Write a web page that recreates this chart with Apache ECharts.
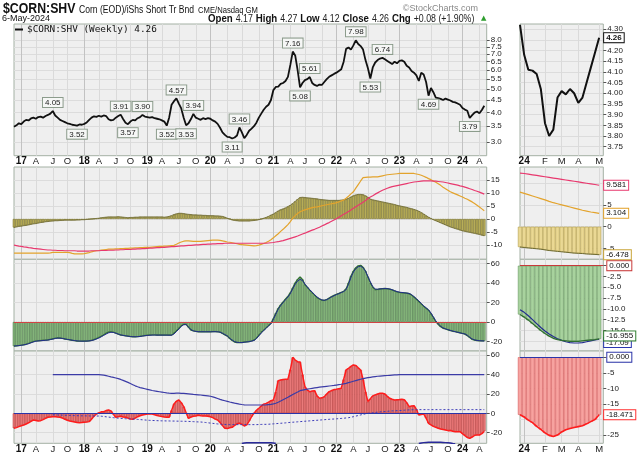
<!DOCTYPE html>
<html><head><meta charset="utf-8">
<script src="https://cdn.jsdelivr.net/npm/echarts@6/dist/echarts.min.js"></script>
<style>html,body{margin:0;padding:0;background:#fff}#c{width:640px;height:457px}</style>
</head><body><div id="c"></div>
<script>
// ---------- text ----------
const SYMBOL = '$CORN:SHV';
const SYMBOL_NAME = 'Corn (EOD)/iShs Short Tr Bnd';
const EXCHANGE = 'CME/Nasdaq GM';
const COPYRIGHT = '\u00A9StockCharts.com';
const DATE_TEXT = '6-May-2024';
const OHLC = ['Open','4.17','High','4.27','Low','4.12','Close','4.26','Chg','+0.08 (+1.90%)'];
const LEGEND_NAME = '$CORN:SHV (Weekly) 4.26';
const MONTH_LETTERS = ['J','F','M','A','M','J','J','A','S','O','N','D'];

// ---------- long view: bi-weekly samples from 2016-11-28 to 2024-05-06 ----------
const FIRST_DATE = '2016-11-28';
const price = [3.48,3.53,3.60,3.57,3.66,3.72,3.70,3.77,3.80,3.76,
 3.82,3.84,3.80,3.86,3.90,3.95,4.05,3.88,3.80,3.72,
 3.68,3.64,3.60,3.58,3.55,3.54,3.52,3.56,3.55,3.58,
 3.63,3.72,3.80,3.85,3.83,3.87,3.84,3.88,3.86,3.74,
 3.70,3.72,3.80,3.86,3.91,3.75,3.62,3.57,3.66,3.72,
 3.70,3.78,3.82,3.90,3.84,3.82,3.80,3.82,3.78,3.76,
 3.74,3.70,3.66,3.52,3.80,4.30,4.45,4.57,4.35,4.15,
 3.80,3.53,3.60,3.75,3.94,3.80,3.76,3.72,3.78,3.75,
 3.78,3.76,3.70,3.66,3.58,3.45,3.30,3.22,3.16,3.15,
 3.11,3.14,3.20,3.46,3.30,3.12,3.22,3.35,3.42,3.50,
 3.62,3.80,3.95,4.10,4.22,4.30,4.50,4.95,5.10,5.12,
 5.25,5.30,5.40,5.62,6.30,7.16,6.90,6.00,5.08,5.30,
 5.45,5.50,5.61,5.30,5.20,5.15,5.22,5.20,5.35,5.50,
 5.62,5.70,5.78,5.85,5.95,6.05,6.50,7.35,7.45,7.30,
 7.60,7.98,7.70,7.55,7.30,6.60,6.10,5.53,6.15,6.45,
 6.60,6.70,6.74,6.65,6.55,6.45,6.35,6.50,6.40,6.55,
 6.58,6.50,6.25,6.15,5.95,5.85,5.70,5.40,5.85,5.75,
 5.35,4.69,5.05,4.85,4.60,4.58,4.55,4.50,4.56,4.52,
 4.48,4.42,4.40,4.35,4.30,4.17,4.105,4.06,3.79,3.89,
 3.99,4.03,3.96,4.09,4.26];
// [sample index, label side]
const priceAnnotations = [[16,'top'],[26,'bottom'],[44,'top'],[47,'bottom'],[53,'top'],[63,'bottom'],
 [67,'top'],[71,'bottom'],[74,'top'],[90,'bottom'],[93,'top'],[115,'top'],[118,'bottom'],[122,'top'],
 [141,'top'],[147,'bottom'],[152,'top'],[171,'bottom'],[188,'bottom']];

const panel2Hist = [-3.3,-3.1,-2.9,-2.8,-2.6,-2.5,-2.3,-2.1,-1.9,-1.8,
 -1.6,-1.4,-1.3,-1.1,-1.0,-0.9,-0.8,-0.7,-0.7,-0.6,
 -0.6,-0.5,-0.5,-0.5,-0.5,-0.5,-0.4,-0.4,-0.3,-0.3,
 -0.2,-0.1,0.0,0.1,0.2,0.3,0.5,0.6,0.7,0.8,
 0.8,0.8,0.8,0.9,0.8,0.7,0.6,0.5,0.6,0.6,
 0.7,0.7,0.8,0.8,0.8,0.8,0.8,0.8,0.8,0.8,
 0.8,0.8,0.7,0.8,1.0,1.3,1.7,2.0,2.2,2.2,
 2.1,1.9,1.8,1.7,1.6,1.6,1.5,1.5,1.4,1.4,
 1.3,1.3,1.3,1.2,1.2,1.1,1.0,0.7,0.3,0.0,
 -0.4,-0.6,-0.7,-0.8,-0.8,-0.8,-0.8,-0.8,-0.7,-0.6,
 -0.5,-0.3,0.0,0.3,0.6,1.0,1.5,1.9,2.5,3.1,
 3.6,3.9,4.3,4.8,5.3,6.0,6.8,7.6,8.3,8.4,
 8.3,8.2,8.1,8.0,7.9,7.8,7.6,7.5,7.4,7.3,
 7.2,7.2,7.2,7.2,7.2,7.3,7.4,7.6,8.0,8.5,
 9.0,9.3,9.5,9.5,9.4,9.0,8.4,7.7,7.4,7.2,
 7.0,6.8,6.6,6.4,6.2,6.0,5.8,5.6,5.3,5.1,
 4.9,4.7,4.5,4.2,4.0,3.7,3.4,3.0,2.5,1.9,
 1.3,0.7,0.2,-0.3,-0.7,-1.1,-1.5,-1.9,-2.3,-2.7,
 -3.1,-3.4,-3.7,-4.0,-4.3,-4.6,-4.8,-5.0,-5.2,-5.4,
 -5.6,-5.8,-6.0,-6.3,-6.5];
const panel2Orange = [-13.2,-13.2,-13.2,-13.2,-13.2,-13.2,-13.2,-13.2,-13.2,-13.2,
 -13.2,-13.2,-13.2,-13.2,-13.2,-13.1,-12.9,-12.9,-12.9,-12.9,
 -12.9,-12.9,-12.9,-13.0,-13.3,-13.5,-13.5,-13.5,-13.5,-13.4,
 -13.2,-13.0,-12.7,-12.5,-12.3,-12.2,-12.0,-11.9,-11.8,-11.7,
 -11.7,-11.7,-11.6,-11.6,-11.5,-11.5,-11.4,-11.4,-11.3,-11.3,
 -11.2,-11.2,-11.1,-11.1,-11.0,-11.0,-11.0,-10.9,-10.8,-10.7,
 -10.6,-10.6,-10.5,-10.5,-10.4,-10.3,-10.2,-9.8,-9.3,-8.9,
 -8.6,-8.5,-8.5,-8.6,-8.7,-8.7,-8.7,-8.7,-8.6,-8.5,
 -8.4,-8.3,-8.2,-8.2,-8.2,-8.3,-8.5,-8.7,-8.9,-9.0,
 -9.2,-9.4,-9.6,-9.8,-9.9,-10.0,-10.1,-10.2,-10.3,-10.4,
 -10.3,-10.1,-9.8,-9.5,-9.1,-8.6,-8.0,-7.3,-6.5,-5.7,
 -4.8,-4.0,-3.1,-2.2,-1.0,0.3,1.3,2.1,2.8,3.2,
 3.5,3.8,4.1,4.4,4.6,4.7,4.9,5.1,5.3,5.5,
 5.7,5.9,6.0,6.3,6.6,7.0,7.3,8.0,8.8,9.7,
 10.5,11.9,13.3,14.7,16.0,16.1,16.2,16.2,16.3,16.3,
 16.3,16.5,16.7,16.9,17.1,17.2,17.3,17.4,17.5,17.6,
 17.6,17.6,17.6,17.6,17.6,17.6,17.4,17.2,16.9,16.5,
 16.1,15.6,15.2,14.7,14.2,13.6,13.0,12.3,11.7,11.1,
 10.5,10.1,9.7,9.3,8.9,8.5,8.0,7.6,7.1,6.6,
 6.0,5.3,4.6,3.9,3.2];
const panel2Pink = [-10.1,-10.3,-10.5,-10.6,-10.8,-10.9,-11.1,-11.2,-11.4,-11.5,
 -11.6,-11.7,-11.8,-11.9,-12.0,-12.0,-12.1,-12.1,-12.2,-12.2,
 -12.2,-12.3,-12.3,-12.3,-12.3,-12.3,-12.4,-12.4,-12.4,-12.4,
 -12.4,-12.4,-12.3,-12.3,-12.3,-12.3,-12.2,-12.2,-12.2,-12.1,
 -12.1,-12.1,-12.0,-12.0,-11.9,-11.9,-11.8,-11.8,-11.8,-11.7,
 -11.7,-11.6,-11.6,-11.5,-11.5,-11.4,-11.3,-11.3,-11.2,-11.1,
 -11.1,-11.0,-11.0,-10.9,-10.8,-10.7,-10.7,-10.6,-10.5,-10.4,
 -10.4,-10.3,-10.2,-10.2,-10.1,-10.0,-10.0,-9.9,-9.8,-9.8,
 -9.7,-9.7,-9.6,-9.6,-9.5,-9.5,-9.5,-9.4,-9.4,-9.4,
 -9.4,-9.4,-9.4,-9.4,-9.4,-9.4,-9.4,-9.4,-9.4,-9.4,
 -9.4,-9.4,-9.4,-9.4,-9.4,-9.3,-9.2,-9.1,-8.9,-8.8,
 -8.6,-8.4,-8.1,-7.8,-7.5,-7.2,-6.9,-6.6,-6.2,-5.8,
 -5.5,-5.1,-4.7,-4.3,-4.0,-3.6,-3.2,-2.7,-2.3,-1.8,
 -1.4,-0.9,-0.4,0.1,0.7,1.2,1.8,2.3,2.9,3.5,
 4.1,4.7,5.3,5.9,6.5,7.1,7.9,8.5,9.0,9.6,
 10.1,10.6,11.1,11.5,11.9,12.2,12.5,12.7,12.9,13.1,
 13.3,13.5,13.7,13.9,14.1,14.3,14.4,14.5,14.6,14.7,
 14.7,14.7,14.7,14.6,14.6,14.5,14.4,14.3,14.1,13.9,
 13.7,13.5,13.3,13.1,12.8,12.6,12.3,12.0,11.7,11.4,
 11.0,10.7,10.4,10.0,9.6];

const panel3Hist = [-24.8,-24.5,-24.2,-23.8,-23.3,-22.8,-22.0,-21.0,-20.0,-19.4,
 -19.2,-19.0,-18.8,-18.6,-18.3,-17.8,-17.2,-16.6,-16.2,-16.4,
 -16.9,-17.5,-17.9,-18.3,-18.8,-19.2,-19.5,-19.7,-19.7,-19.6,
 -19.5,-19.3,-18.8,-18.0,-17.0,-15.9,-14.5,-13.0,-11.5,-10.4,
 -10.0,-10.5,-11.5,-12.5,-13.4,-13.8,-14.2,-14.6,-15.0,-15.2,
 -15.2,-15.0,-14.7,-14.3,-13.9,-13.6,-13.4,-13.3,-13.3,-13.4,
 -13.4,-13.4,-13.4,-13.4,-13.5,-13.4,-11.5,-9.0,-6.6,-3.8,
 -2.3,-2.5,-5.5,-8.3,-9.2,-9.7,-10.0,-10.0,-10.0,-10.0,
 -10.0,-10.0,-9.9,-9.9,-10.0,-10.5,-11.8,-13.2,-14.5,-17.0,
 -19.0,-20.5,-21.0,-21.2,-21.0,-20.6,-20.3,-20.0,-19.4,-18.6,
 -16.5,-13.5,-10.5,-8.3,-6.0,-3.5,-1.4,3.5,9.0,14.0,
 17.6,20.5,23.5,26.2,30.0,35.0,40.0,43.5,46.0,43.5,
 38.3,35.5,32.5,30.0,27.5,25.0,23.5,22.3,22.1,23.0,
 24.5,26.0,27.2,28.3,29.3,30.4,31.4,34.0,40.0,47.0,
 52.0,55.5,57.5,58.0,56.0,52.0,46.0,40.0,35.5,33.1,
 33.3,33.8,34.1,34.3,34.1,33.6,32.8,31.8,30.9,30.3,
 30.0,29.8,29.5,29.0,27.5,25.5,23.3,21.0,18.5,16.0,
 14.1,12.0,8.5,4.5,0.3,-2.5,-4.8,-6.5,-7.2,-8.0,
 -8.8,-9.5,-10.0,-10.6,-11.2,-11.8,-12.4,-14.0,-16.0,-17.9,
 -18.6,-19.0,-19.2,-19.3,-19.3];
const panel3Signal = [-24.5,-24.4,-24.1,-23.8,-23.4,-22.9,-22.2,-21.3,-20.4,-19.7,
 -19.3,-19.1,-18.9,-18.7,-18.5,-18.0,-17.5,-16.9,-16.5,-16.5,
 -16.8,-17.3,-17.8,-18.2,-18.6,-19.0,-19.3,-19.5,-19.6,-19.6,
 -19.5,-19.3,-19.0,-18.3,-17.4,-16.4,-15.1,-13.7,-12.3,-11.1,
 -10.5,-10.7,-11.4,-12.3,-13.1,-13.7,-14.1,-14.5,-14.8,-15.0,
 -15.1,-15.0,-14.8,-14.4,-14.0,-13.7,-13.5,-13.4,-13.3,-13.4,
 -13.4,-13.4,-13.4,-13.4,-13.5,-13.5,-12.2,-9.8,-7.2,-4.5,
 -2.8,-2.7,-5.0,-7.8,-9.0,-9.6,-9.9,-10.0,-10.0,-10.0,
 -10.0,-10.0,-10.0,-9.9,-10.0,-10.4,-11.5,-12.8,-14.2,-16.5,
 -18.5,-20.0,-20.8,-21.0,-21.0,-20.7,-20.4,-20.1,-19.6,-18.9,
 -17.0,-14.2,-11.2,-8.8,-6.5,-4.0,-1.8,2.5,8.0,13.0,
 16.8,19.8,22.8,25.5,29.0,34.0,38.5,42.0,43.5,42.5,
 38.8,35.8,33.0,30.5,28.0,25.6,23.9,22.6,22.2,22.8,
 24.1,25.6,26.9,28.0,29.0,30.1,31.1,33.2,38.5,45.5,
 51.0,54.5,56.5,57.0,55.5,52.0,46.5,41.0,36.2,33.8,
 33.5,33.8,34.0,34.2,34.1,33.7,33.0,32.0,31.1,30.5,
 30.2,29.9,29.6,29.2,28.0,26.0,23.8,21.5,19.0,16.5,
 14.5,12.5,9.2,5.3,1.2,-1.8,-4.2,-6.0,-7.0,-7.8,
 -8.6,-9.3,-9.9,-10.5,-11.1,-11.7,-12.2,-13.5,-15.5,-17.3,
 -18.3,-18.8,-19.1,-19.3,-19.4];

const panel4Hist = [-15.5,-14.8,-13.8,-12.8,-12.1,-11.0,-9.8,-8.3,-6.9,-7.4,
 -7.9,-7.6,-6.5,-5.2,-4.1,-3.8,-3.5,-3.6,-3.9,-4.1,
 -5.0,-6.2,-7.2,-7.9,-8.5,-9.0,-9.5,-9.7,-9.6,-9.3,
 -9.0,-8.6,-6.0,-3.0,-0.7,0.5,1.5,1.7,2.8,3.4,
 2.5,-1.0,-4.1,-3.5,-3.0,-3.8,-4.1,-5.0,-5.8,-6.2,
 -5.0,-3.5,-2.5,-1.7,-1.2,-0.8,-0.7,-0.7,-1.5,-2.3,
 -2.9,-3.4,-3.8,-4.1,-4.1,3.0,9.7,12.5,13.8,11.0,
 6.9,0.5,-5.2,-4.0,-3.0,-2.8,-2.0,-2.5,-2.8,-2.8,
 -3.0,-3.5,-4.5,-6.0,-6.9,-9.5,-12.5,-15.5,-15.8,-15.0,
 -14.5,-12.5,-10.8,-10.3,-11.5,-13.1,-12.0,-8.0,-3.4,0.0,
 3.0,5.2,7.5,9.5,10.3,11.5,13.0,13.8,22.0,33.8,
 34.5,35.0,35.2,35.2,45.0,57.9,55.0,53.4,53.1,40.0,
 27.6,24.0,22.4,23.0,23.4,18.0,15.5,16.0,17.2,20.0,
 22.4,23.5,24.5,24.8,25.5,25.9,35.0,44.8,46.5,48.5,
 50.0,49.5,47.0,44.8,35.0,22.0,12.1,15.0,18.0,19.0,
 20.0,20.7,20.7,20.0,17.5,15.5,14.5,13.8,14.0,14.2,
 14.5,14.0,11.0,6.9,7.5,7.9,4.0,-1.7,-1.2,-0.7,
 -5.0,-10.3,-12.0,-13.5,-14.5,-15.5,-16.2,-16.8,-17.3,-17.9,
 -17.8,-18.5,-19.0,-19.0,-19.0,-21.0,-23.0,-25.0,-25.9,-24.5,
 -22.8,-22.4,-22.4,-21.0,-18.5];
// these two lines begin at sample 16
const PANEL4_LINES_START = 16;
const panel4Upper = [40,40,40,40,
 40,40,40,40,40,40,40,40,40,40,
 40,40,40,40,40,40,39.8,39.5,39.0,38.3,
 37.6,37.2,36.5,35.8,35.0,34.0,33.0,32.0,30.8,29.6,
 28.4,27.4,26.6,26.0,25.4,24.8,24.2,23.6,23.1,22.7,
 22.3,21.9,21.5,21.1,20.8,20.7,20.7,20.8,20.8,20.7,
 20.6,20.4,20.1,19.8,19.5,19.3,19.1,18.9,18.6,18.3,
 18.0,17.6,17.0,16.2,15.3,14.4,13.6,13.0,12.4,11.7,
 11.1,10.5,10.0,9.5,9.1,8.8,8.6,8.6,8.6,8.6,
 8.6,8.6,8.6,8.6,8.7,9.0,9.3,9.7,10.4,11.5,
 12.7,14.0,15.3,16.6,18.0,19.4,20.8,22.0,23.4,24.0,
 24.5,25.0,25.4,25.8,26.2,26.6,27.0,27.3,27.6,27.9,
 28.2,28.5,28.8,29.2,29.6,30.0,30.5,31.0,31.7,32.4,
 33.1,33.8,34.5,35.2,35.8,36.3,36.8,37.2,37.6,38.0,
 38.3,38.5,38.7,38.9,39.1,39.3,39.5,39.7,39.8,40.0,
 40,40,40,40,40,40,40,40,40,40,
 40,40,40,40,40,40,40,40,40,40,
 40,40,40,40,40,40,40,40,40,40,
 40,40,40,40,40];
const panel4Middle = [-1.5,-1.6,-1.7,-1.8,
 -1.9,-2.0,-2.1,-2.2,-2.3,-2.4,-2.5,-2.5,-2.6,-2.6,
 -2.7,-2.7,-2.8,-2.8,-2.8,-2.8,-3.0,-3.3,-3.6,-3.9,
 -4.2,-4.5,-4.8,-5.0,-5.2,-5.4,-5.6,-5.7,-5.8,-5.9,
 -6.1,-6.3,-6.5,-6.7,-6.9,-7.1,-7.3,-7.4,-7.5,-7.6,
 -7.7,-7.8,-7.8,-7.9,-7.9,-8.0,-8.0,-8.1,-8.1,-8.2,
 -8.2,-8.3,-8.4,-8.5,-8.6,-8.8,-8.9,-9.0,-9.2,-9.5,
 -9.8,-10.1,-10.4,-10.7,-11.0,-11.2,-11.4,-11.5,-11.6,-11.7,
 -11.7,-11.7,-11.7,-11.7,-11.7,-11.7,-11.7,-11.7,-11.7,-11.7,
 -11.7,-11.6,-11.5,-11.4,-11.4,-11.3,-11.1,-10.9,-10.7,-10.5,
 -10.3,-10.1,-9.9,-9.6,-9.4,-9.2,-9.0,-8.8,-8.6,-8.4,
 -8.2,-8.0,-7.8,-7.6,-7.4,-7.2,-7.0,-6.8,-6.6,-6.4,
 -6.2,-6.0,-5.9,-5.7,-5.5,-5.3,-5.1,-4.8,-4.5,-4.1,
 -3.5,-2.9,-2.3,-1.7,-1.1,-0.5,0.0,0.3,0.6,0.9,
 1.2,1.5,1.7,1.9,2.1,2.3,2.5,2.6,2.7,2.8,
 3.0,3.2,3.4,3.5,3.6,3.7,3.8,3.8,3.8,3.8,
 3.8,3.8,3.8,3.8,3.8,3.8,3.8,3.8,3.8,3.8,
 3.8,3.8,3.8,3.8,3.8,3.8,3.8,3.8,3.8,3.8,
 3.8,3.8,3.8,3.8,3.8];
// lower band only shows where it rises into the panel
const panel4LowerA_START = 94;
const panel4LowerA = [-31.3,-30.6,-30.4,-30.4,-30.4,-30.4,-30.4,-30.4,-30.4,-30.4,-30.4,-30.4,-30.4,-30.6,-31.3];
const panel4LowerB_START = 167;
const panel4LowerB = [-31.3,-30.6,-30.3,-30.1,-30.0,-29.9,-29.8,-29.8,-29.9,-30.0,-30.1,-30.3,-30.5,-30.8,-31.2,-31.5];

// ---------- 2024 close-up: weekly from 2023-12-25 ----------
const R_FIRST_DATE = '2023-12-25';
const rPrice = [4.32,4.18,4.11,4.106,4.09,4.02,3.86,3.80,3.83,3.98,4.01,3.995,4.02,4.00,3.955,3.98,4.05,4.12,4.19,4.26];
const rPanel2Hist = [-4.7,-4.8,-4.9,-5.0,-5.1,-5.2,-5.35,-5.5,-5.6,-5.7,-5.8,-5.9,-6.0,-6.1,-6.15,-6.2,-6.3,-6.35,-6.4,-6.478];
const rPanel2Pink = [12.4,12.3,12.15,12.0,11.85,11.7,11.55,11.4,11.25,11.1,10.95,10.8,10.65,10.5,10.35,10.2,10.05,9.9,9.75,9.581];
const rPanel2Orange = [8.0,7.7,7.4,7.1,6.8,6.5,6.2,5.85,5.55,5.3,5.05,4.8,4.55,4.3,4.05,3.8,3.6,3.4,3.25,3.104];
const rPanel3Hist = [-11.3,-11.9,-12.6,-13.4,-14.2,-15.0,-15.7,-16.3,-16.8,-17.1,-17.3,-17.4,-17.5,-17.5,-17.5,-17.4,-17.3,-17.2,-17.1,-16.955];
const rPanel3Signal = [-10.2,-10.8,-11.6,-12.5,-13.4,-14.3,-15.1,-15.8,-16.4,-16.9,-17.3,-17.6,-17.8,-17.9,-17.9,-17.8,-17.6,-17.4,-17.2,-17.09];
const rPanel4Hist = [-18.5,-19.2,-20.2,-21.0,-22.2,-23.2,-24.3,-25.1,-25.5,-25.0,-24.0,-23.3,-22.9,-22.6,-22.3,-22.0,-21.4,-20.7,-20.0,-18.471];

// ---------- tick values ----------
const mainTicks = [3.0,3.5,4.0,4.5,5.0,5.5,6.0,6.5,7.0,7.5,8.0];
const mainLabelsWhole = [3.0,4.0,5.0,6.0,7.0,8.0];
const mainLabelsHalf = [3.5,4.5,5.5,6.5,7.5];
const p2Ticks = [15,10,5,0,-5,-10];
const p3Ticks = [60,40,20,0,-20];
const p4Ticks = [60,40,20,0,-20];
const rMainTicks = [4.30,4.25,4.20,4.15,4.10,4.05,4.00,3.95,3.90,3.85,3.80,3.75];
const rMainLabels = [4.30,4.20,4.15,4.10,4.05,4.00,3.95,3.90,3.85,3.80,3.75];
const rP2Ticks = [10,5,0,-5], rP2Labels = [5,0,-5];
const rP3Ticks = [0,-2.5,-5,-7.5,-10,-12.5,-15,-17.5], rP3Labels = [-2.5,-5,-7.5,-10,-12.5,-15];
const rP4Ticks = [0,-5,-10,-15,-20,-25], rP4Labels = [-5,-10,-15,-25];

// ---------- build ----------
function dateSeq(start, n, step){const t0=Date.parse(start);return Array.from({length:n},(_,k)=>new Date(t0+k*step*864e5).toISOString().slice(0,10));}
const leftCats = dateSeq(FIRST_DATE, price.length+1, 14);
const rightCats = dateSeq(R_FIRST_DATE, rPrice.length+1, 7);
function place(start, arr, n){const out=new Array(n).fill(null);arr.forEach((v,k)=>{out[start+k]=v;});return out;}
const N = price.length;
const upperFull = place(PANEL4_LINES_START, panel4Upper, N);
const middleFull = place(PANEL4_LINES_START, panel4Middle, N);
const lowerFull = place(panel4LowerA_START, panel4LowerA, N);
panel4LowerB.forEach((v,k)=>{lowerFull[panel4LowerB_START+k]=v;});

const FONT = '"Liberation Sans", Arial, sans-serif';
const quarterFn = (i, v) => { const d=new Date(v); return d.getUTCMonth()%3===0 && d.getUTCDate()<=14; };
const monthFn = (i, v) => new Date(v).getUTCDate()<=7;
const dateFmt = v => { const d=new Date(v); const m=d.getUTCMonth(); return m===0 ? '{y|'+String(d.getUTCFullYear()%100).padStart(2,'0')+'}' : '{q|'+MONTH_LETTERS[m]+'}'; };

const LX=14, LW=472.7, RX=520, RW=83.3;
const rows=[[24,131.7],[167,92.3],[259.3,91.7],[351,92.3]];
const grids=[];
rows.forEach(r=>grids.push({left:LX,top:r[0],width:LW,height:r[1]}));
rows.forEach(r=>grids.push({left:RX,top:r[0],width:RW,height:r[1]}));
grids.forEach(g=>Object.assign(g,{show:true,backgroundColor:'#efefef',borderColor:'#a4b1a4',borderWidth:1,containLabel:false,outerBoundsMode:'none'}));

function xAx(gi, cats, showLabel, fn, colors){
  return {type:'category', gridIndex:gi, data:cats, boundaryGap:false,
    axisLine:{show:false}, axisTick:{show:false, interval:fn},
    axisLabel:{show:showLabel, interval:fn, margin:1, formatter:dateFmt, color:'#111', hideOverlap:false,
      rich:{y:{fontWeight:'bold',fontSize:10,fontFamily:FONT,color:'#111'}, q:{fontSize:9.5,fontFamily:FONT,color:'#222'}}},
    splitLine:{show:true, interval:fn, lineStyle:{color:colors, width:1}}};
}
function yAx(gi, min, max, ticks, labels, fmt, noSplit){
  return {type:'value', gridIndex:gi, position:'right', min:min, max:max,
    axisLine:{show:false},
    axisTick:{show:true, length:3, customValues:ticks, lineStyle:{color:'#555'}},
    axisLabel:{show:true, customValues:labels, formatter:fmt, fontSize:8, fontFamily:FONT, color:'#222', margin:4,
      hideOverlap:false, showMinLabel:true, showMaxLabel:true},
    splitLine:{show:!noSplit, lineStyle:{color:'#dcdcdc'}}};
}
const LC=['#c2c2c2','#dadada','#dadada','#dadada'];
const RC=['#c2c2c2','#dadada','#dadada','#dadada','#dadada'];
const xAxes=[xAx(0,leftCats,true,quarterFn,LC),xAx(1,leftCats,false,quarterFn,LC),xAx(2,leftCats,false,quarterFn,LC),xAx(3,leftCats,true,quarterFn,LC),
  xAx(4,rightCats,true,monthFn,RC),xAx(5,rightCats,false,monthFn,RC),xAx(6,rightCats,false,monthFn,RC),xAx(7,rightCats,true,monthFn,RC)];
const LN_MIN = Math.log(2.638), LN_MAX = Math.log(9.33);
const lnFmt = v=>Math.exp(v).toFixed(1);
const yAxes=[
  yAx(0, LN_MIN, LN_MAX, mainTicks.map(Math.log), mainLabelsWhole.map(Math.log), lnFmt),
  yAx(1, -15.6, 20.1, p2Ticks, p2Ticks, v=>String(v)),
  yAx(2, -29.65, 64.1, p3Ticks, p3Ticks, v=>String(v)),
  yAx(3, -31.0, 64.4, p4Ticks, p4Ticks, v=>String(v)),
  yAx(4, 3.708, 4.324, rMainTicks, rMainLabels, v=>v.toFixed(2)),
  yAx(5, -7.53, 13.8, rP2Ticks, rP2Labels, v=>String(v)),
  yAx(6, -19.75, 1.48, rP3Ticks, rP3Labels, v=>v.toFixed(1)),
  yAx(7, -27.65, 2.0, rP4Ticks, rP4Labels, v=>String(v)),
  // second axis on the main panel with the half-step labels, so tightly packed labels are not dropped
  yAx(0, LN_MIN, LN_MAX, mainLabelsHalf.map(Math.log), mainLabelsHalf.map(Math.log), lnFmt, true)
];

const annoMap = {}; priceAnnotations.forEach(a=>{annoMap[a[0]]=a[1];});
const priceData = price.map((v,i)=>{
  const item={value:Math.log(v)};
  if(annoMap[i]) item.label={show:true, position:annoMap[i], formatter:v.toFixed(2), distance:4,
    backgroundColor:'#f6f7f6', borderColor:'#8c9c8c', borderWidth:1, padding:[1,2,0,2],
    fontSize:8, fontFamily:FONT, color:'#222'};
  return item;
});

const tag = (txt,col,bold) => ({show:true, formatter:txt, backgroundColor:'#fff', borderColor:col, borderWidth:1,
  padding:[1,2,0,2], fontSize:8, fontFamily:FONT, color:'#111', fontWeight:bold?'bold':'normal', distance:5});
const line = (xi, data, color, width, extra) => Object.assign({type:'line', xAxisIndex:xi, yAxisIndex:xi, data:data,
  symbol:'none', lineStyle:{color:color,width:width}, itemStyle:{color:color}, silent:true,
  labelLayout:{hideOverlap:false, moveOverlap:false}}, extra||{});
const bars = (xi, data, fill, stroke, bw, extra) => Object.assign({type:'bar', xAxisIndex:xi, yAxisIndex:xi, data:data,
  barWidth:bw, itemStyle:{color:fill, borderColor:stroke, borderWidth:0.6}, silent:true}, extra||{});
const zeroLine = (col, lab) => ({markLine:{symbol:'none', silent:true, data:[{yAxis:0}],
  lineStyle:{color:col,width:1.2,type:'solid'}, label: lab ? Object.assign(tag(lab,col),{position:'end',distance:4}) : {show:false}}});

const series = [
  line(0, priceData, '#111', 1.8, {name:LEGEND_NAME, z:5, symbol:'circle', symbolSize:0, showSymbol:true, showAllSymbol:true,
    label:{show:false}}),
  bars(1, panel2Hist, '#bdb25c', '#77702a', 2.5),
  line(1, panel2Hist, '#6e6a30', 0.8),
  line(1, panel2Orange, '#e3a32c', 1.2),
  line(1, panel2Pink, '#e8386e', 1.2),
  bars(2, panel3Hist, '#8cbc82', '#4c7c46', 2.5, zeroLine('#d04444')),
  line(2, panel3Hist, '#2f6e2f', 1.2),
  line(2, panel3Signal, '#222c8e', 1),
  bars(3, panel4Hist, '#ee8282', '#bb3434', 2.5, zeroLine('#2b34a8')),
  line(3, panel4Hist, '#ff1c1c', 1.5),
  line(3, upperFull, '#3b3ba6', 1.2),
  line(3, middleFull, '#3b3bb8', 1, {lineStyle:{color:'#3b3bb8',width:1,type:[2,2]}}),
  line(3, lowerFull, '#2a2a9a', 1.5),
  line(4, rPrice, '#111', 2, {endLabel:tag('4.26','#111',true)}),
  bars(5, rPanel2Hist, '#ead894', '#b5a04c', 4.2),
  line(5, rPanel2Hist, '#6e6a30', 1, {endLabel:tag('-6.478','#c9a53a')}),
  line(5, rPanel2Orange, '#e3a32c', 1.2, {endLabel:tag('3.104','#e3a32c')}),
  line(5, rPanel2Pink, '#e8386e', 1.2, {endLabel:tag('9.581','#e8386e')}),
  bars(6, rPanel3Hist, '#a8d29e', '#6a9a62', 4.2, zeroLine('#c83a3a','0.000')),
  line(6, rPanel3Signal, '#222c8e', 1.2, {endLabel:Object.assign(tag('-17.09','#2a36b0'),{offset:[0,3]})}),
  line(6, rPanel3Hist, '#2f6e2f', 1.3, {endLabel:Object.assign(tag('-16.955','#2f7e2f'),{offset:[0,-3]})}),
  bars(7, rPanel4Hist, '#f6a3a0', '#d65a5a', 4.2, zeroLine('#2b34a8','0.000')),
  line(7, rPanel4Hist, '#ff1c1c', 1.6, {endLabel:tag('-18.471','#ff3030')})
];

const ohlcText = OHLC.map((t,k)=> k%2===0 ? '{b|'+t+'}' : '{n|'+t+'}').join(' ');
const option = {
  animation:false,
  backgroundColor:'#ffffff',
  grid:grids, xAxis:xAxes, yAxis:yAxes, series:series,
  legend:{data:[LEGEND_NAME], left:15, top:24, padding:[1,0,0,0], itemWidth:8, itemHeight:2, itemGap:0, icon:'rect',
    selectedMode:false, textStyle:{fontFamily:'"DejaVu Sans Mono", monospace', fontSize:9.4, color:'#111', padding:[0,0,0,-1]}},
  graphic:[
    {type:'text', x:3, y:1, scaleX:0.82, style:{text:SYMBOL, font:'bold 15px '+FONT, fill:'#111', verticalAlign:'top'}},
    {type:'text', x:79, y:4, scaleX:0.78, style:{text:SYMBOL_NAME, font:'11px '+FONT, fill:'#111', verticalAlign:'top'}},
    {type:'text', x:198, y:6, scaleX:0.85, style:{text:EXCHANGE, font:'9px '+FONT, fill:'#111', verticalAlign:'top'}},
    {type:'text', right:162, top:4, style:{text:COPYRIGHT, font:'9px '+FONT, fill:'#888'}},
    {type:'text', left:2, top:14, style:{text:DATE_TEXT, font:'9px '+FONT, fill:'#111'}},
    {type:'text', x:208, y:13, scaleX:0.88, style:{text:ohlcText, fill:'#111', verticalAlign:'top',
      rich:{b:{font:'bold 11px '+FONT, fill:'#111'}, n:{font:'10px '+FONT, fill:'#222'}}}},
    {type:'text', left:481, top:15, style:{text:'\u25B2', font:'7px "DejaVu Sans"', fill:'#2e9e2e'}}
  ]
};
const chart = echarts.init(document.getElementById('c'), null, {renderer:'canvas'});
chart.setOption(option);
</script></body></html>
